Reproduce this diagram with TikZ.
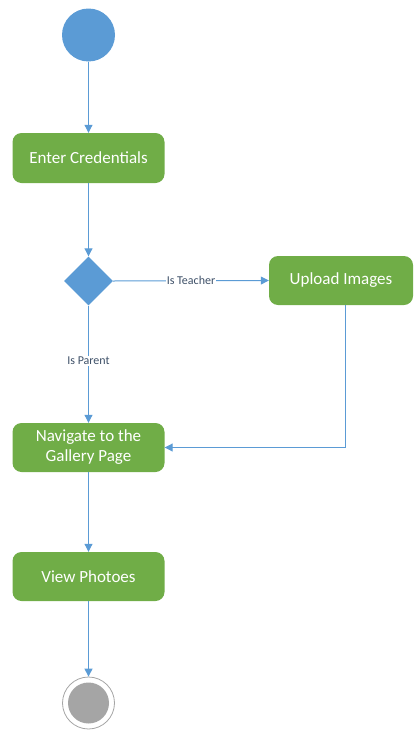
\documentclass[tikz,border=0pt]{standalone}
\usepackage{fontspec}
\setmainfont{Carlito}
\usetikzlibrary{shapes.geometric,arrows.meta}
\definecolor{flowblue}{HTML}{5B9BD5}
\definecolor{actgreen}{HTML}{70AD47}
\definecolor{labelgray}{HTML}{3E5068}
\definecolor{endgray}{HTML}{A5A5A5}
\begin{document}
\begin{tikzpicture}[x=1pt,y=-1pt,
  action/.style={rectangle, rounded corners=9pt, fill=actgreen, draw=none,
    minimum width=152pt, minimum height=50pt, text=white, align=center,
    font=\fontsize{17}{20}\selectfont, inner sep=0pt},
  flow/.style={draw=flowblue, line width=1pt, -{Triangle[length=8pt,width=8pt]}},
  guard/.style={fill=white, text=labelgray, font=\fontsize{12}{14}\selectfont, inner sep=1pt}
]
\useasboundingbox (0,0) rectangle (414,731);

% start and end of the activity
\node[circle, fill=flowblue, minimum size=53pt, inner sep=0pt] (start) at (88.5,35) {};
\node[circle, draw=endgray, line width=0.8pt, fill=white, minimum size=52pt, inner sep=0pt] (stop) at (88.5,703) {};
\node[circle, fill=endgray, minimum size=41pt, inner sep=0pt] at (stop) {};

% actions
\node[action] (cred) at (88.5,158) {Enter Credentials};
\node[diamond, fill=flowblue, minimum width=49pt, minimum height=49pt, inner sep=0pt, aspect=1] (dec) at (88.5,281) {};
\node[action, minimum width=144pt, minimum height=49pt] (upload) at (341,280.5) {Upload Images};
\node[action, minimum height=49pt] (nav) at (88.5,447.5) {Navigate to the\\Gallery Page};
\node[action, minimum height=49pt] (view) at (88.5,576.5) {View Photoes};

\coordinate (corner) at (345,447.5);

% control flow
\draw[flow] (start) -- (cred);
\draw[flow] (cred) -- (dec);
\draw[flow] (dec.east) -- node[guard, pos=0.5] {Is Teacher} (upload.west);
\draw[flow] (dec.south) -- node[guard, pos=0.47] {Is Parent} (nav.north);
\draw[flow] (345,305) -- (corner) -- (nav.east);
\draw[flow] (nav) -- (view);
\draw[flow] (view) -- (stop);
\end{tikzpicture}
\end{document}
